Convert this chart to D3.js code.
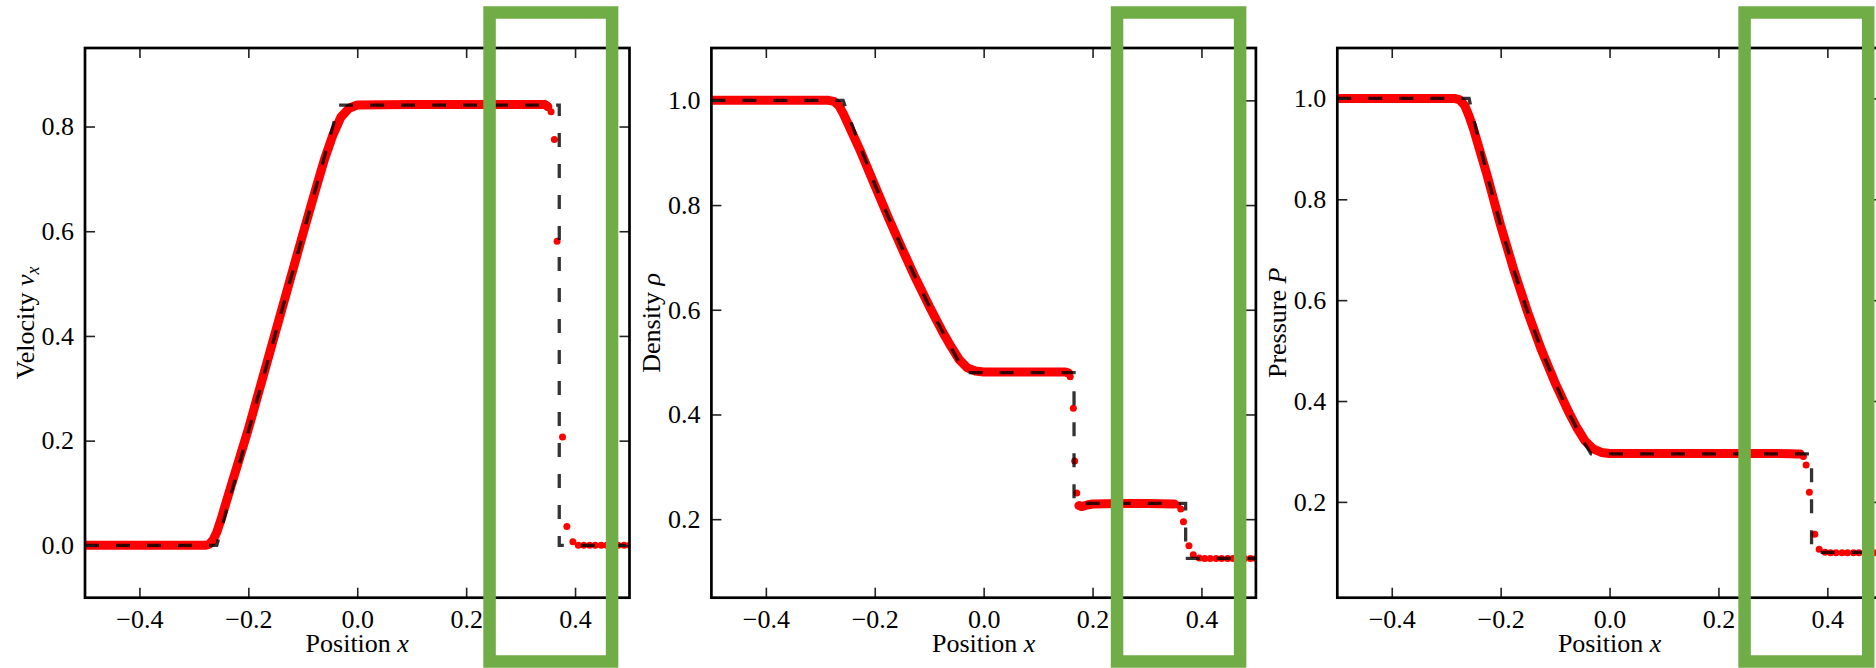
<!DOCTYPE html>
<html>
<head>
<meta charset="utf-8">
<script src="https://cdn.jsdelivr.net/npm/d3@7"></script>
<style>
  body { margin: 0; background: #fff; }
  svg { display: block; }
  text { font-family: "Liberation Serif", "DejaVu Serif", serif; fill: #000; }
  .tick text { font-size: 26px; }
  .title { font-size: 26px; }
</style>
</head>
<body>
<svg id="fig" width="1876" height="668"></svg>
<script>
// ---- Tick values -------------------------------------------------------
const xTickValues   = [-0.4, -0.2, 0.0, 0.2, 0.4];
const velocityTicks = [0.0, 0.2, 0.4, 0.6, 0.8];
const densityTicks  = [0.2, 0.4, 0.6, 0.8, 1.0];
const pressureTicks = [0.2, 0.4, 0.6, 0.8, 1.0];

// ---- Analytic Riemann solution (x, value) --------------------------------
const velocityExact = [[-0.5, 0], [-0.258, 0], [-0.034, 0.841], [0.371, 0.841], [0.371, 0], [0.5, 0]];
const densityExact = [[-0.5, 1], [-0.258, 1], [-0.25, 0.976], [-0.225, 0.907], [-0.2, 0.840],
  [-0.175, 0.777], [-0.15, 0.718], [-0.125, 0.661], [-0.1, 0.607], [-0.075, 0.557],
  [-0.05, 0.509], [-0.034, 0.480], [0.166, 0.480], [0.166, 0.230], [0.371, 0.230],
  [0.371, 0.125], [0.5, 0.125]];
const pressureExact = [[-0.5, 1], [-0.258, 1], [-0.25, 0.961], [-0.225, 0.849], [-0.2, 0.748],
  [-0.175, 0.657], [-0.15, 0.575], [-0.125, 0.501], [-0.1, 0.436], [-0.075, 0.377],
  [-0.05, 0.324], [-0.034, 0.295], [0.371, 0.295], [0.371, 0.1], [0.5, 0.1]];

// ---- Simulation particles ------------------------------------------------
// densely packed particles, traced as continuous runs
const velocityRun = [[-0.5, 0], [-0.28, 0], [-0.272, 0.002], [-0.265, 0.01], [-0.258, 0.025],
  [-0.25, 0.05], [-0.24, 0.085], [-0.2, 0.222], [-0.15, 0.408], [-0.1, 0.594], [-0.075, 0.685],
  [-0.06, 0.738], [-0.045, 0.783], [-0.03, 0.818], [-0.015, 0.835], [0, 0.841], [0.1, 0.842],
  [0.2, 0.842], [0.3, 0.842], [0.345, 0.842], [0.35, 0.838]];
const densityRunLeft = [[-0.5, 1], [-0.285, 1], [-0.275, 0.998], [-0.266, 0.99], [-0.258, 0.975],
  [-0.25, 0.957], [-0.225, 0.9], [-0.2, 0.838], [-0.175, 0.776], [-0.15, 0.717], [-0.125, 0.66],
  [-0.1, 0.607], [-0.075, 0.557], [-0.06, 0.53], [-0.045, 0.505], [-0.03, 0.489], [-0.015, 0.483],
  [0, 0.481], [0.05, 0.481], [0.1, 0.481], [0.15, 0.481], [0.156, 0.479]];
const densityRunMid = [[0.175, 0.226], [0.18, 0.224], [0.19, 0.227], [0.2, 0.229], [0.25, 0.23],
  [0.3, 0.23], [0.35, 0.229]];
const pressureRun = [[-0.5, 1], [-0.285, 1], [-0.275, 0.997], [-0.266, 0.986], [-0.258, 0.965],
  [-0.25, 0.94], [-0.225, 0.848], [-0.2, 0.748], [-0.175, 0.657], [-0.15, 0.575], [-0.125, 0.501],
  [-0.1, 0.436], [-0.075, 0.378], [-0.06, 0.347], [-0.045, 0.321], [-0.03, 0.305], [-0.015, 0.298],
  [0, 0.296], [0.1, 0.296], [0.2, 0.296], [0.3, 0.296], [0.35, 0.295]];

// individually resolved particles
const velocityDots = [[0.356, 0.828], [0.362, 0.775], [0.367, 0.581], [0.377, 0.207], [0.385, 0.036],
  [0.396, 0.007], [0.406, 0], [0.416, 0], [0.427, 0], [0.437, 0], [0.448, 0], [0.458, 0],
  [0.469, 0], [0.479, 0], [0.49, 0], [0.5, 0]];
const densityDots = [[0.159, 0.472], [0.1647, 0.412], [0.1672, 0.311], [0.171, 0.25],
  [0.356, 0.227], [0.362, 0.2195], [0.367, 0.195], [0.377, 0.149], [0.385, 0.132], [0.396, 0.126],
  [0.406, 0.125], [0.416, 0.125], [0.427, 0.125], [0.437, 0.125], [0.448, 0.125], [0.458, 0.125],
  [0.469, 0.125], [0.479, 0.125], [0.49, 0.125], [0.5, 0.125]];
const pressureDots = [[0.356, 0.29], [0.361, 0.273], [0.367, 0.219], [0.377, 0.136], [0.385, 0.106],
  [0.396, 0.1], [0.406, 0.099], [0.416, 0.099], [0.427, 0.099], [0.437, 0.099], [0.448, 0.099],
  [0.458, 0.099], [0.469, 0.099], [0.479, 0.099], [0.49, 0.099], [0.5, 0.099]];

// highlighted x-ranges
const velocityHighlight = [0.243, 0.468];
const densityHighlight  = [0.245, 0.471];
const pressureHighlight = [0.248, 0.475];

// ---- Layout ---------------------------------------------------------------
const W = 1876, H = 668;
const PLOT_TOP = 48, PW = 544.5, PH = 549.7;
const HL_TOP = 12.5, HL_BOTTOM = 661.5;
const SERIF = '"Liberation Serif", "DejaVu Serif", serif';

const panels = [
  { left: 85,     domain: [-0.1, 0.95], ticks: velocityTicks, exact: velocityExact,
    runs: [velocityRun], dots: velocityDots, highlight: velocityHighlight, label: "velocity" },
  { left: 711.4,  domain: [0.05, 1.1], ticks: densityTicks, exact: densityExact,
    runs: [densityRunLeft, densityRunMid], dots: densityDots, highlight: densityHighlight, label: "density" },
  { left: 1337.3, domain: [0.01, 1.1], ticks: pressureTicks, exact: pressureExact,
    runs: [pressureRun], dots: pressureDots, highlight: pressureHighlight, label: "pressure" }
];

const svg = d3.select("#fig");
svg.append("rect").attr("width", W).attr("height", H).attr("fill", "#fff");
const fmt = d3.format(".1f");

panels.forEach((p, i) => {
  const x = d3.scaleLinear().domain([-0.5, 0.5]).range([0, PW]);
  const y = d3.scaleLinear().domain(p.domain).range([PH, 0]);
  const g = svg.append("g").attr("transform", `translate(${p.left},${PLOT_TOP})`);

  g.append("clipPath").attr("id", "clip" + i)
    .append("rect").attr("width", PW).attr("height", PH);
  const body = g.append("g").attr("clip-path", `url(#clip${i})`);
  const line = d3.line().x(d => x(d[0])).y(d => y(d[1]));

  // simulation particles
  body.selectAll("path.run").data(p.runs).join("path")
    .attr("class", "run")
    .attr("d", line)
    .attr("fill", "none")
    .attr("stroke", "#ff0000")
    .attr("stroke-width", 9)
    .attr("stroke-linejoin", "round")
    .attr("stroke-linecap", "round");
  body.selectAll("circle.dot").data(p.dots).join("circle")
    .attr("class", "dot")
    .attr("cx", d => x(d[0]))
    .attr("cy", d => y(d[1]))
    .attr("r", 3.5)
    .attr("fill", "#ff0000");

  // analytic solution
  body.append("path")
    .attr("d", line(p.exact))
    .attr("fill", "none")
    .attr("stroke", "#000")
    .attr("stroke-opacity", 0.8)
    .attr("stroke-width", 3.3)
    .attr("stroke-dasharray", "14,17");

  // axes with inward ticks on all four sides
  const tidy = sel => {
    sel.select(".domain").remove();
    sel.attr("font-family", SERIF).attr("font-size", 26).style("color", "#222");
    sel.selectAll(".tick line").attr("stroke-width", 1.6);
    sel.selectAll(".tick text").attr("fill", "#000");
  };
  g.append("g").attr("transform", `translate(0,${PH})`)
    .call(d3.axisBottom(x).tickValues(xTickValues).tickFormat(fmt).tickSize(-10).tickPadding(12)).call(tidy);
  g.append("g")
    .call(d3.axisTop(x).tickValues(xTickValues).tickFormat("").tickSize(-10)).call(tidy);
  g.append("g")
    .call(d3.axisLeft(y).tickValues(p.ticks).tickFormat(fmt).tickSize(-10).tickPadding(11)).call(tidy);
  g.append("g").attr("transform", `translate(${PW},0)`)
    .call(d3.axisRight(y).tickValues(p.ticks).tickFormat("").tickSize(-10)).call(tidy);

  g.append("rect").attr("width", PW).attr("height", PH)
    .attr("fill", "none").attr("stroke", "#000").attr("stroke-width", 2.7);

  // x title
  const xt = g.append("text").attr("class", "title")
    .attr("x", PW / 2).attr("y", 604).attr("text-anchor", "middle");
  xt.append("tspan").text("Position ");
  xt.append("tspan").attr("font-style", "italic").text("x");

  // y title
  const yt = g.append("text").attr("class", "title")
    .attr("transform", `translate(-51,${PH / 2}) rotate(-90)`)
    .attr("text-anchor", "middle");
  if (p.label === "velocity") {
    yt.append("tspan").text("Velocity ");
    yt.append("tspan").attr("font-style", "italic").text("v");
    yt.append("tspan").attr("font-style", "italic").attr("font-size", "18px").attr("dy", "0.25em").text("x");
  } else if (p.label === "density") {
    yt.append("tspan").text("Density ");
    yt.append("tspan").attr("font-style", "italic").text("ρ");
  } else {
    yt.append("tspan").text("Pressure ");
    yt.append("tspan").attr("font-style", "italic").text("P");
  }

  // highlight frame over the shock region
  svg.append("rect")
    .attr("x", p.left + x(p.highlight[0]))
    .attr("y", HL_TOP)
    .attr("width", x(p.highlight[1]) - x(p.highlight[0]))
    .attr("height", HL_BOTTOM - HL_TOP)
    .attr("fill", "none")
    .attr("stroke", "#70ad47")
    .attr("stroke-width", 12.5);
});
</script>
</body>
</html>
